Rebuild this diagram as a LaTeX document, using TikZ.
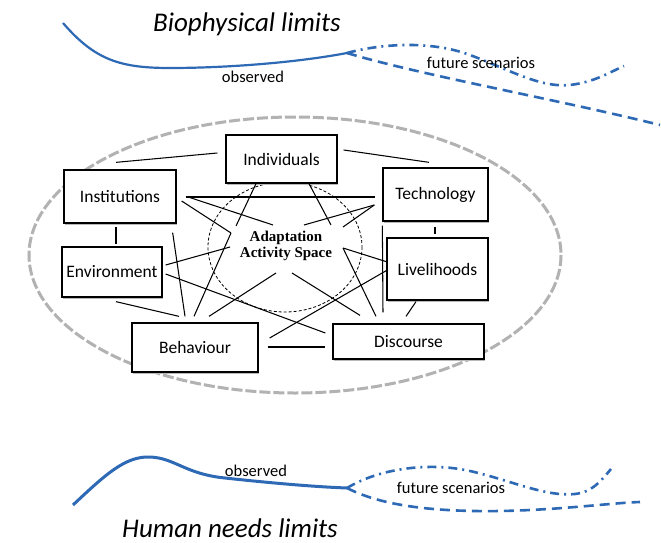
\documentclass[tikz,border=0pt]{standalone}
\usepackage{fontspec}
\setmainfont{Carlito}
\newfontfamily\lblfont{Liberation Serif}
\usetikzlibrary{calc,shadows}
\definecolor{curveblue}{RGB}{45,105,180}
\begin{document}
\begin{tikzpicture}[x=1pt,y=-1pt,
  box/.style={draw=black, line width=1.3pt, fill=white, inner sep=0pt,
    font=\fontsize{17.5}{20}\selectfont,
    drop shadow={shadow xshift=0.9pt, shadow yshift=-1.8pt, fill=gray!55, opacity=1}},
  link/.style={line width=1.05pt},
  solidcurve/.style={curveblue, line width=2.2pt},
  dashcurve/.style={curveblue, line width=2.6pt, dash pattern=on 10pt off 6pt},
  dotcurve/.style={curveblue, line width=2.6pt, dash pattern=on 9pt off 5pt on 2pt off 5pt},
  curvelabel/.style={font=\fontsize{16.5}{19}\selectfont, inner sep=0pt},
  title/.style={font=\fontsize{27}{30}\selectfont\itshape, inner sep=0pt}]
\fill[white] (0,0) rectangle (661,543);
\useasboundingbox (0,0) rectangle (661,543);

% outer dashed ellipse
\draw[gray!60, line width=3pt, dash pattern=on 11pt off 3pt] (295,255) ellipse [x radius=266, y radius=138];
% inner dashed circle
\draw[black, line width=0.8pt, dash pattern=on 3pt off 2pt] (285,247) ellipse [x radius=77, y radius=65];

% boxes
\node[box, minimum width=111pt, minimum height=48pt] (ind)  at (281.5,159)   {Individuals};
\node[box, minimum width=112pt, minimum height=53pt] (inst) at (120,196.5)   {Institutions};
\node[box, minimum width=100pt, minimum height=50pt] (env)  at (112,272)     {Environment};
\node[box, minimum width=126pt, minimum height=49pt] (beh)  at (195,347.5)   {Behaviour};
\node[box, minimum width=105pt, minimum height=53pt] (tech) at (435.5,194.5) {Technology};
\node[box, minimum width=101pt, minimum height=62pt] (live) at (437.5,269)   {Livelihoods};
\node[box, minimum width=151pt, minimum height=35pt] (disc) at (408.5,341.5) {Discourse};

% centre label
\node[align=center, inner sep=0pt, font=\lblfont\bfseries\fontsize{15}{16}\selectfont] (aas) at (286,245.5) {Adaptation\\Activity Space};

% star points around the label
\coordinate (a1) at (231,233);
\coordinate (a2) at (273,225);
\coordinate (a3) at (236,226);
\coordinate (a4) at (331,225);
\coordinate (a5) at (304,225);
\coordinate (a6) at (343,227);
\coordinate (a7) at (343,248);
\coordinate (a8) at (292,273);
\coordinate (a9) at (276,273);
\coordinate (a10) at (230,247);

% connectors
\draw[link] ($(inst.north)+(-4,-7)$) -- ($(ind.west)+(-8,-6)$);
\draw[link] ($(ind.east)+(6,-9)$) -- ($(tech.north)+(-6.5,-5)$);
\draw[link] ($(inst.east)+(9,0.5)$) -- ($(tech.west)+(-7,2.5)$);
\draw[link] ($(inst.east)+(5,4.5)$) -- (a1);
\draw[link] ($(inst.east)+(10,0)$) -- (a2);
\draw[link] ($(ind.south)+(-25.5,0)$) -- (a3);
\draw[link] ($(ind.south)+(27.5,0)$) -- (a4);
\draw[link] ($(tech.west)+(-8,10.5)$) -- (a5);
\draw[link] ($(tech.west)+(-8,10.5)$) -- (a6);
\draw[link] ($(live.west)+(1,-7)$) -- (a7);
\draw[link] (a7) -- ($(disc.north)+(-32.5,-7)$);
\draw[link] ($(live.west)+(1,1)$) -- ($(beh.east)+(11,-9.5)$);
\draw[link] ($(tech.south west)+(0,4)$) -- ($(disc.north)+(-25.5,-11)$);
\draw[link] ($(tech.south)+(-0.5,5)$) -- ($(live.north)+(-2.5,-3)$);
\draw[link] ($(live.south)+(-21.5,1)$) -- ($(disc.north)+(-2.5,-7)$);
\draw[link] (a8) -- ($(disc.north)+(-48.5,-8)$);
\draw[link] (a9) -- ($(beh.north)+(14,-6)$);
\draw[link] ($(env.east)+(3,-7)$) -- (a10);
\draw[link] ($(env.east)+(3,2)$) -- ($(disc.west)+(-7,-8.5)$);
\draw[link] ($(inst.south east)+(-4,9)$) -- ($(beh.north)+(-10,-6)$);
\draw[link] ($(beh.north)+(-1,-6)$) -- (a1);
\draw[link] ($(env.south)+(4,4)$) -- ($(beh.north)+(-16,-6)$);
\draw[link] ($(inst.south)+(-4,3)$) -- ($(env.north)+(4,-2)$);
\draw[link] ($(beh.east)+(9,-0.5)$) -- ($(disc.west)+(-7,5.5)$);

% top curves
\node[title] (bio) at (247,24) {Biophysical limits};
\coordinate (tj) at (347,53);
\draw[solidcurve] (63,23) .. controls (95,60) and (120,68) .. (170,68)
  .. controls (230,68) and (300,62) .. (tj);
\draw[dotcurve] (tj) .. controls (380,44) and (430,40) .. (470,55)
  .. controls (510,70) and (540,88) .. (570,85)
  .. controls (595,82) and (610,72) .. (624,66);
\draw[dashcurve] (tj) .. controls (420,75) and (560,100) .. (660,125);
\node[curvelabel] (obs1) at (253,77) {observed};
\node[curvelabel] (fut1) at (481,63) {future scenarios};

% bottom curves
\coordinate (bj) at (347,488);
\draw[solidcurve, line width=3pt] (73,505) .. controls (105,475) and (125,456) .. (150,457)
  .. controls (175,458) and (185,474) .. (225,478)
  .. controls (280,484) and (320,487) .. (bj);
\draw[dotcurve] (bj) .. controls (380,468) and (430,462) .. (470,471)
  .. controls (510,480) and (545,497) .. (575,494)
  .. controls (592,492) and (600,482) .. (611,469);
\draw[dashcurve] (bj) .. controls (380,505) and (430,512) .. (500,511)
  .. controls (560,510) and (610,503) .. (640,502);
\node[curvelabel] (obs2) at (256,471) {observed};
\node[curvelabel] (fut2) at (451,488) {future scenarios};
\node[title] (hum) at (230,528) {Human needs limits};
\end{tikzpicture}
\end{document}
